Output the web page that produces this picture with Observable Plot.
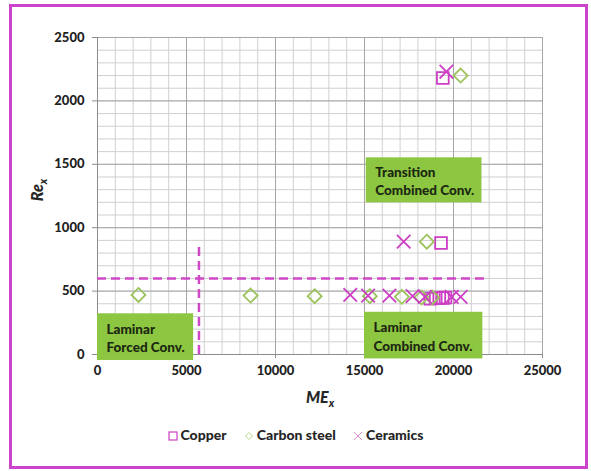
<!DOCTYPE html>
<html>
<head>
<meta charset="utf-8">
<script src="https://cdn.jsdelivr.net/npm/d3@7"></script>
<script src="https://cdn.jsdelivr.net/npm/@observablehq/plot@0.6"></script>
<style>
  body { margin: 0; background: #fff; }
  #wrap { position: relative; width: 591px; height: 471px; overflow: hidden; font-family: Lato, "Open Sans", sans-serif; }
  #frame { position: absolute; left: 9px; top: 4px; width: 579px; height: 465px; border: 3px solid #cc44cc; box-sizing: border-box; }
  #chart { position: absolute; left: 0; top: 0; }
  #legend { position: absolute; left: 0; top: 426px; width: 591px; text-align: center; font-weight: 900; font-size: 14px; color: #262626; }
  #legend span.item { margin: 0 7px; white-space: nowrap; }
  #legend svg { vertical-align: -1px; margin-right: 3px; }
</style>
</head>
<body>
<div id="wrap">
  <div id="frame"></div>
  <div id="chart"></div>
  <div id="legend"></div>
</div>
<script>
// ---- data ----
const xTicks = [0, 5000, 10000, 15000, 20000, 25000];
const yTicks = [0, 500, 1000, 1500, 2000, 2500];
const xGrid = [0,1000,2000,3000,4000,5000,6000,7000,8000,9000,10000,11000,12000,13000,14000,15000,16000,17000,18000,19000,20000,21000,22000,23000,24000,25000];
const yGrid = [0,100,200,300,400,500,600,700,800,900,1000,1100,1200,1300,1400,1500,1600,1700,1800,1900,2000,2100,2200,2300,2400,2500];

const seriesNames = ["Copper", "Carbon steel", "Ceramics"];

const copperME = [19400, 19300, 18700, 19000, 19200, 19400, 19550];
const copperRe = [2180, 880, 440, 445, 445, 445, 450];

const steelME = [20400, 18500, 2300, 8600, 12200, 15300, 17100, 18200, 18800];
const steelRe = [2200, 890, 470, 465, 460, 460, 455, 450, 450];

const ceramicsME = [19600, 17200, 14200, 15200, 16400, 17700, 18400, 19900, 20400];
const ceramicsRe = [2230, 890, 470, 465, 465, 460, 455, 455, 455];

// regime boxes (data units)
const regionLabels = ["Transition\nCombined Conv.", "Laminar\nForced Conv.", "Laminar\nCombined Conv."];
const regionX1 = [15100, 0, 15000];
const regionX2 = [21600, 5400, 21650];
const regionY1 = [1196, -47, -35];
const regionY2 = [1551, 321, 333];

// thresholds
const reThreshold = [{y: 600, x1: 0, x2: 22000}];
const meThreshold = [{x: 5700, y1: 0, y2: 850}];

// ---- build tables ----
const toRows = (xs, ys) => xs.map((x, i) => ({x, y: ys[i]}));
const copper = toRows(copperME, copperRe);
const steel = toRows(steelME, steelRe);
const ceramics = toRows(ceramicsME, ceramicsRe);
const regions = regionLabels.map((label, i) => ({label, x1: regionX1[i], x2: regionX2[i], y1: regionY1[i], y2: regionY2[i]}));

const MAG = "#cc3fc4";
const GRN = "#9cc35c";
const BOX = "#8dc641";

const chart = Plot.plot({
  width: 591,
  height: 420,
  marginLeft: 97,
  marginRight: 49,
  marginTop: 37,
  marginBottom: 66,
  x: {domain: [0, 25000], axis: null},
  y: {domain: [0, 2500], axis: null},
  style: {fontFamily: "Lato, 'Open Sans', sans-serif", fontWeight: "bold", fontSize: "12px", color: "#262626", background: "transparent"},
  marks: [
    Plot.ruleX(xGrid, {stroke: "#d0d0d0", strokeWidth: 1}),
    Plot.ruleY(yGrid, {stroke: "#d0d0d0", strokeWidth: 1}),
    Plot.ruleX(xTicks, {stroke: "#a6a6a6", strokeWidth: 1}),
    Plot.ruleY(yTicks, {stroke: "#a6a6a6", strokeWidth: 1}),
    Plot.ruleX([0], {stroke: "#8c8c8c"}),
    Plot.ruleY([0], {stroke: "#8c8c8c"}),
    Plot.axisX(xTicks, {tickSize: 4, tickPadding: 7, tickFormat: d => String(d), stroke: "#8c8c8c", fontSize: 13, fontWeight: 900, fill: "#222"}),
    Plot.axisY(yTicks, {tickSize: 5, tickPadding: 8, tickFormat: d => String(d), stroke: "#8c8c8c", fontSize: 13, fontWeight: 900, fill: "#222"}),
    Plot.rect(regions, {x1: "x1", x2: "x2", y1: "y1", y2: "y2", fill: BOX}),
    Plot.text(regions, {x: "x1", y: d => (d.y1 + d.y2) / 2, text: "label", textAnchor: "start", dx: 9, lineAnchor: "middle", lineHeight: 1.35, fontSize: 13.5, fontWeight: 900, fill: "#1c2812"}),
    Plot.ruleY(reThreshold, {y: "y", x1: "x1", x2: "x2", stroke: "#d048c8", strokeWidth: 2.5, strokeDasharray: "9,5"}),
    Plot.ruleX(meThreshold, {x: "x", y1: "y1", y2: "y2", stroke: "#d048c8", strokeWidth: 2.5, strokeDasharray: "9,5"}),
    Plot.dot(copper, {x: "x", y: "y", symbol: "square2", r: 7.5, stroke: MAG, strokeWidth: 1.8, fill: "none"}),
    Plot.dot(steel, {x: "x", y: "y", symbol: "diamond2", r: 6.3, stroke: GRN, strokeWidth: 1.8, fill: "none"}),
    Plot.dot(ceramics, {x: "x", y: "y", symbol: "times", r: 6.2, stroke: MAG, strokeWidth: 1.8, fill: "none"})
  ]
});
document.getElementById("chart").appendChild(chart);

// axis titles with subscripts
const svg = d3.select(chart);
const xt = svg.append("text")
  .attr("x", 320).attr("y", 403)
  .attr("text-anchor", "middle")
  .attr("font-size", 16).attr("font-weight", 900).attr("font-style", "italic")
  .attr("fill", "#262626");
xt.append("tspan").text("ME");
xt.append("tspan").attr("font-size", 11).attr("dy", 4).text("x");

const yt = svg.append("text")
  .attr("transform", "translate(43,190) rotate(-90)")
  .attr("text-anchor", "middle")
  .attr("font-size", 16).attr("font-weight", 900).attr("font-style", "italic")
  .attr("fill", "#262626");
yt.append("tspan").text("Re");
yt.append("tspan").attr("font-size", 11).attr("dy", 4).text("x");

// legend
const legendSymbols = {
  "Copper": `<svg width="10" height="10"><rect x="1" y="1" width="8" height="8" fill="none" stroke="${MAG}" stroke-width="1.2"/></svg>`,
  "Carbon steel": `<svg width="10" height="10"><path d="M5,1.5L8.5,5L5,8.5L1.5,5Z" fill="none" stroke="#b5d68a" stroke-width="1"/></svg>`,
  "Ceramics": `<svg width="10" height="10"><path d="M1,1L9,9M9,1L1,9" fill="none" stroke="#d98fd4" stroke-width="1"/></svg>`
};
document.getElementById("legend").innerHTML = seriesNames
  .map(n => `<span class="item">${legendSymbols[n]}${n}</span>`).join(" ");
</script>
</body>
</html>
